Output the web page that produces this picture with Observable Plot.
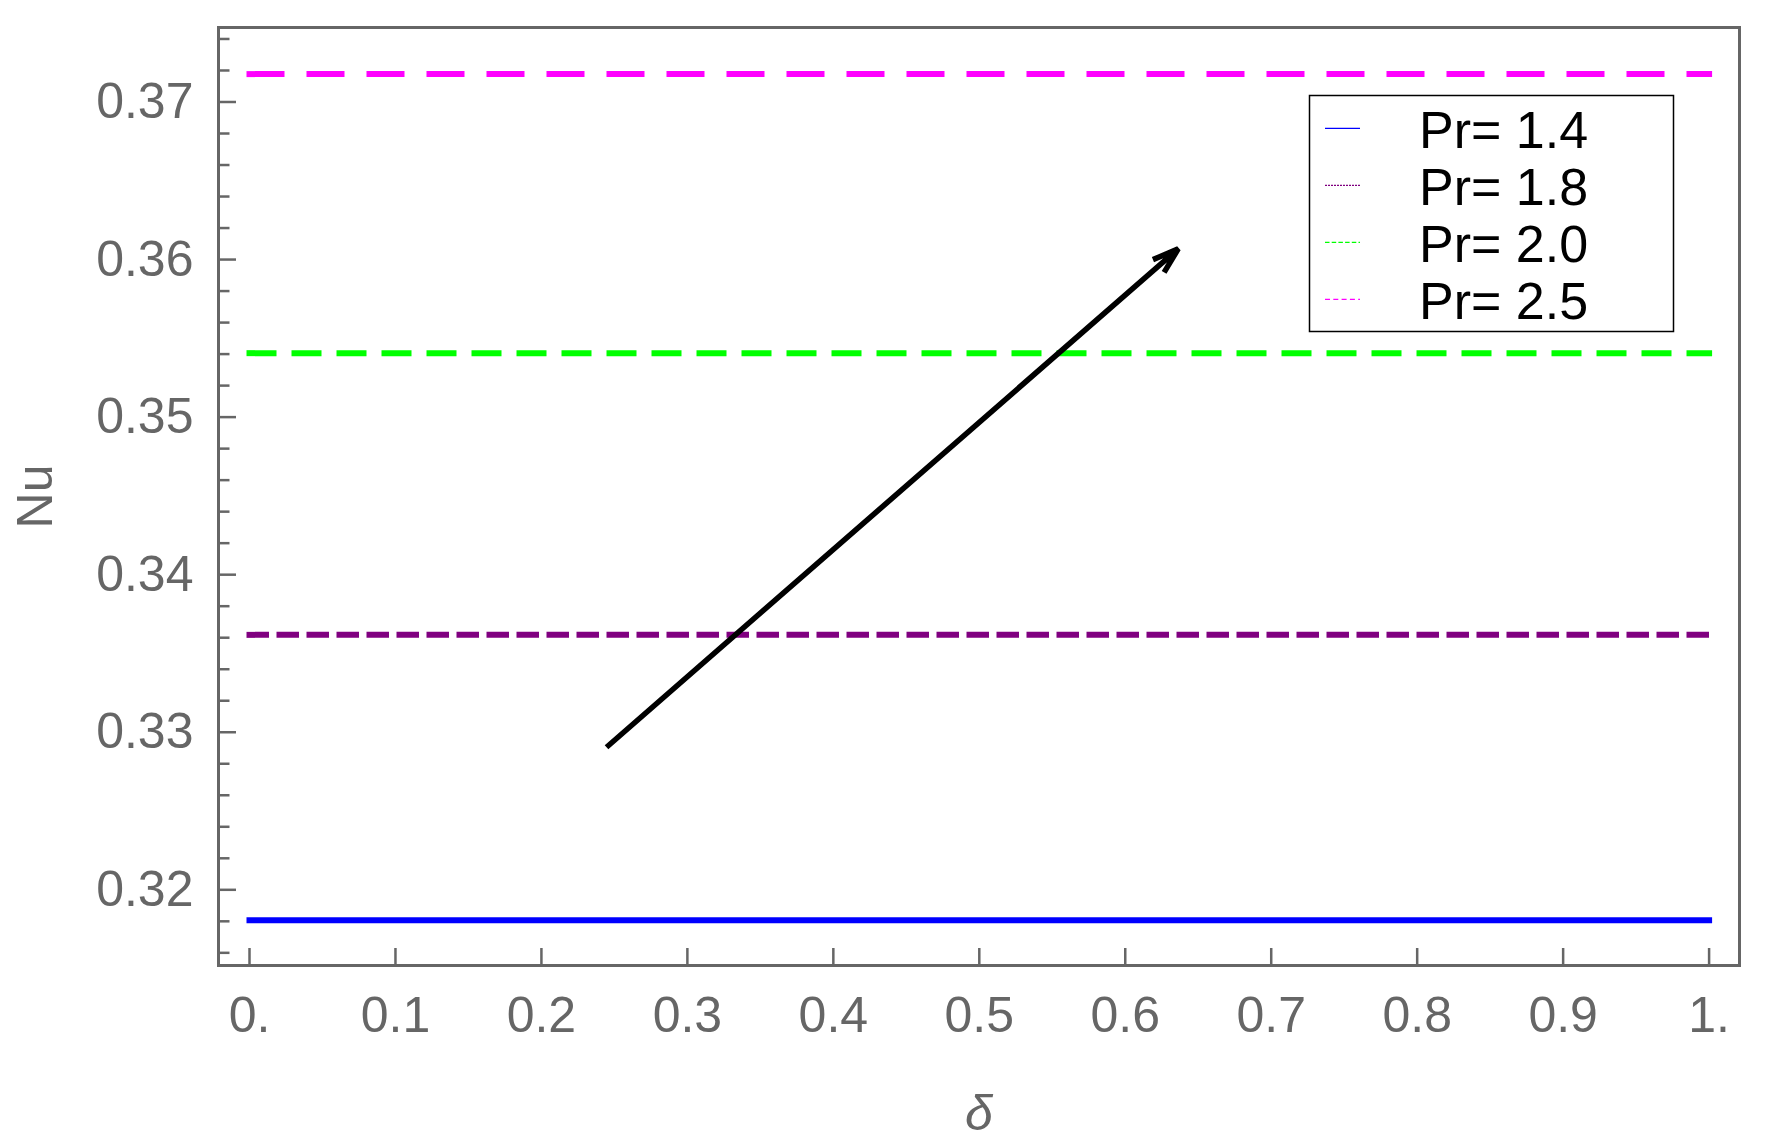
<!DOCTYPE html>
<html>
<head>
<meta charset="utf-8">
<script src="https://cdn.jsdelivr.net/npm/d3@7"></script>
<script src="https://cdn.jsdelivr.net/npm/@observablehq/plot@0.6"></script>
<style>
  html, body { margin: 0; padding: 0; background: #fff; }
  #chart { position: relative; width: 1767px; height: 1146px; }
</style>
</head>
<body>
<div id="chart"></div>
<script>
// ---- data ----
const deltaRange = [0, 1];
const prLabels = ["Pr= 1.4", "Pr= 1.8", "Pr= 2.0", "Pr= 2.5"];
const nuValues = [0.31807, 0.33618, 0.35406, 0.37177];
const xTicks = [0, 0.1, 0.2, 0.3, 0.4, 0.5, 0.6, 0.7, 0.8, 0.9, 1];
const xTickLabels = ["0.", "0.1", "0.2", "0.3", "0.4", "0.5", "0.6", "0.7", "0.8", "0.9", "1."];
const yTicks = [0.32, 0.33, 0.34, 0.35, 0.36, 0.37];
const yTickLabels = ["0.32", "0.33", "0.34", "0.35", "0.36", "0.37"];
const arrowStart = {delta: 0.2446, nu: 0.32905};
const arrowEnd = {delta: 0.6363, nu: 0.36068};
const xLabel = "δ";
const yLabel = "Nu";

// ---- styles ----
const seriesColors = ["#0000ff", "#800080", "#00ff00", "#ff00ff"];
const seriesDash = [null, "16.5,13.5", "24,21", "32,28"];
const legendDash = [null, "2,1", "4.5,2.2", "5,3.3"];
const gray = "#666666";
const font = "'Liberation Sans', Arial, Helvetica, sans-serif";

const W = 1767, H = 1146;
const mL = 218, mR = 28, mT = 27, mB = 181;
const plotW = W - mL - mR, plotH = H - mT - mB;

const yMinor = d3.range(0.316, 0.3745, 0.002)
  .filter(v => !yTicks.some(t => Math.abs(t - v) < 1e-6));

const lineMarks = nuValues.map((nu, i) =>
  Plot.line(deltaRange.map(d => ({delta: d, nu})), {
    x: "delta", y: "nu",
    stroke: seriesColors[i], strokeWidth: 6,
    strokeDasharray: seriesDash[i] || undefined,
    strokeLinecap: "square"
  })
);

const chart = Plot.plot({
  width: W, height: H,
  marginLeft: mL, marginRight: mR, marginTop: mT, marginBottom: mB,
  style: {fontFamily: font, background: "#fff"},
  x: {domain: [-0.02124, 1.02083]},
  y: {domain: [0.315196, 0.374728]},
  marks: [
    // minor & major ticks (inward)
    Plot.ruleY(yMinor, {stroke: gray, strokeWidth: 2.5, insetRight: plotW - 11.5}),
    Plot.ruleY(yTicks, {stroke: gray, strokeWidth: 2.5, insetRight: plotW - 18}),
    Plot.ruleX(xTicks, {stroke: gray, strokeWidth: 2.5, insetTop: plotH - 17}),
    ...lineMarks,
    Plot.arrow([{a: arrowStart, b: arrowEnd}], {
      x1: d => d.a.delta, y1: d => d.a.nu, x2: d => d.b.delta, y2: d => d.b.nu,
      stroke: "black", strokeWidth: 5.5, headLength: 7.5, headAngle: 36,
      strokeLinecap: "butt", strokeLinejoin: "miter"
    }),
    Plot.frame({stroke: gray, strokeWidth: 3}),
    Plot.axisY(yTicks, {
      tickSize: 0, tickPadding: 25, fontSize: 50, fill: gray,
      tickFormat: d => yTickLabels[yTicks.indexOf(d)], label: null
    }),
    Plot.axisX(xTicks, {
      tickSize: 0, tickPadding: 31, fontSize: 50, fill: gray,
      tickFormat: d => xTickLabels[xTicks.indexOf(d)], label: null
    }),
    Plot.text([xLabel], {
      text: d => d, frameAnchor: "bottom", dy: 148,
      textAnchor: "middle", lineAnchor: "middle",
      fontSize: 50, fontStyle: "italic", fill: gray
    }),
    Plot.text([yLabel], {
      text: d => d, frameAnchor: "left", dx: -183, rotate: -90,
      textAnchor: "middle", lineAnchor: "middle",
      fontSize: 50, fill: gray
    })
  ]
});

document.getElementById("chart").appendChild(chart);

// ---- legend (inside plot, top right) ----
const svg = d3.select(chart);
const lg = svg.append("g").attr("font-family", font).attr("text-anchor", "start");
lg.append("rect")
  .attr("x", 1309.5).attr("y", 95.5).attr("width", 364).attr("height", 236)
  .attr("fill", "white").attr("stroke", "black").attr("stroke-width", 1.5);
prLabels.forEach((lab, i) => {
  const yy = 128.3 + i * 57;
  const ln = lg.append("line")
    .attr("x1", 1325).attr("x2", 1360).attr("y1", yy).attr("y2", yy)
    .attr("stroke", seriesColors[i]).attr("stroke-width", 1.2);
  if (legendDash[i]) ln.attr("stroke-dasharray", legendDash[i]);
  lg.append("text")
    .attr("x", 1419).attr("y", yy + 19.5)
    .attr("text-anchor", "start")
    .attr("font-size", 52).attr("fill", "black")
    .text(lab);
});
</script>
</body>
</html>
